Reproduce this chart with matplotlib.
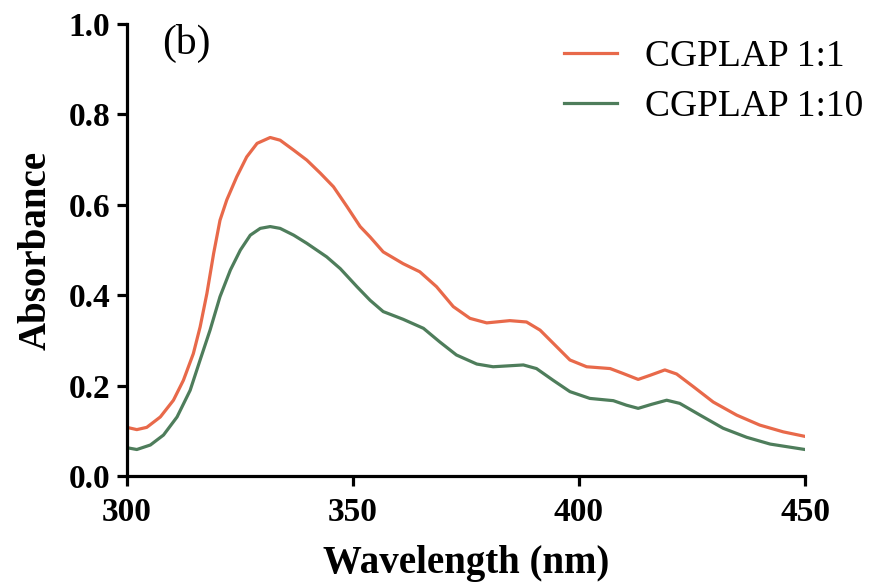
import matplotlib
matplotlib.use("Agg")
import matplotlib.pyplot as plt

# wavelength (nm) and absorbance
wl_11 = [300, 302.2, 304.4, 307.4, 310.3, 312.5, 314.7, 316.2, 317.7, 319.2, 320.6, 322.1,
         324.3, 326.5, 328.8, 331.7, 333.9, 336.9, 339.8, 342.8, 345.7, 348.7, 351.6,
         353.8, 356.7, 361.1, 364.8, 368.5, 372.2, 375.9, 379.6, 384.7, 388.4, 391.4,
         394.3, 398.0, 401.7, 406.9, 409.8, 413.1, 415.7, 419.0, 421.6, 425.3, 429.7,
         434.9, 440.0, 445.2, 450]
abs_11 = [0.108, 0.103, 0.108, 0.131, 0.168, 0.212, 0.271, 0.330, 0.404, 0.493, 0.566, 0.611,
          0.662, 0.706, 0.736, 0.749, 0.743, 0.721, 0.699, 0.670, 0.640, 0.596, 0.552,
          0.529, 0.496, 0.470, 0.452, 0.419, 0.375, 0.349, 0.339, 0.344, 0.341, 0.323,
          0.294, 0.257, 0.242, 0.238, 0.227, 0.214, 0.223, 0.235, 0.226, 0.198, 0.164,
          0.135, 0.113, 0.098, 0.088]

wl_110 = [300, 302.2, 305.2, 308.1, 311.1, 314.0, 316.2, 318.4, 320.6, 322.9, 325.1, 327.3,
          329.5, 331.7, 333.9, 336.9, 339.8, 344.2, 347.2, 350.9, 353.8, 356.7, 361.1,
          365.6, 369.2, 372.9, 377.4, 381.0, 387.7, 390.6, 394.3, 398.0, 402.4, 407.6,
          410.5, 413.1, 416.1, 419.4, 422.3, 426.8, 431.9, 437.1, 442.3, 450]
abs_110 = [0.063, 0.059, 0.069, 0.091, 0.131, 0.190, 0.257, 0.323, 0.397, 0.456, 0.500, 0.533,
           0.548, 0.552, 0.548, 0.533, 0.515, 0.485, 0.459, 0.419, 0.389, 0.364, 0.347,
           0.327, 0.297, 0.268, 0.248, 0.242, 0.246, 0.238, 0.212, 0.187, 0.172, 0.167,
           0.157, 0.150, 0.159, 0.168, 0.161, 0.135, 0.106, 0.086, 0.071, 0.059]

xticks = [300, 350, 400, 450]
yticks = [0.0, 0.2, 0.4, 0.6, 0.8, 1.0]

plt.rcParams['font.family'] = ['Liberation Serif', 'DejaVu Serif']

fig = plt.figure(figsize=(8.75, 5.85), dpi=100)
ax = fig.add_axes([0.145, 0.186, 0.775, 0.773])

ax.plot(wl_11, abs_11, color='#E8694A', lw=2.3, solid_joinstyle='round', label='CGPLAP 1:1')
ax.plot(wl_110, abs_110, color='#4E7D5B', lw=2.3, solid_joinstyle='round', label='CGPLAP 1:10')

ax.set_xlim(300, 450)
ax.set_ylim(0, 1.0)
ax.set_xticks(xticks)
ax.set_yticks(yticks)
ax.set_yticklabels([f"{v:.1f}" for v in yticks])

for s in ['top', 'right']:
    ax.spines[s].set_visible(False)
for s in ['left', 'bottom']:
    ax.spines[s].set_linewidth(2.3)
ax.tick_params(width=2.3, length=7, labelsize=24, pad=5)
ax.tick_params(axis='x', pad=8)
for lab in ax.get_xticklabels() + ax.get_yticklabels():
    lab.set_fontweight('bold')

ax.set_xlabel('Wavelength (nm)', fontsize=28, fontweight='bold', labelpad=12)
ax.set_ylabel('Absorbance', fontsize=28, fontweight='bold', labelpad=10)

ax.text(0.052, 1.0, '(b)', transform=ax.transAxes, fontsize=30, va='top')

ax.legend(loc='upper left', bbox_to_anchor=(0.645, 0.933), bbox_transform=fig.transFigure,
          frameon=False, fontsize=27, borderpad=0, borderaxespad=0,
          handlelength=1.4, handletextpad=0.75, labelspacing=0.42)

fig.savefig('out.png', dpi=100)
